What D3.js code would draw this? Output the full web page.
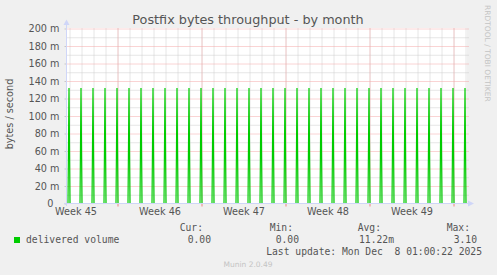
<!DOCTYPE html>
<html>
<head>
<meta charset="utf-8">
<script src="https://cdn.jsdelivr.net/npm/d3@7"></script>
<style>
    html, body { margin: 0; padding: 0; background: #f0f0f0; }
    svg { display: block; }
    text { font-family: "DejaVu Sans", sans-serif; fill: #555; }
    .mono { font-family: "DejaVu Sans Mono", monospace; }
</style>
</head>
<body>
<svg id="chart" width="497" height="275"></svg>
<script>
const chartTitle = 'Postfix bytes throughput - by month';
const yTitle = 'bytes / second';

// graph window (munin "month" view, 2 hours per pixel)
const timeStart = '2025-11-05T20:00:00Z';
const timeEnd = '2025-12-09T04:00:00Z';

// one burst per day, everything else is 0
const spikeTimes = [
    '2025-11-05T23:00:00Z', '2025-11-06T23:00:00Z', '2025-11-07T23:00:00Z', '2025-11-08T23:00:00Z',
    '2025-11-09T23:00:00Z', '2025-11-10T23:00:00Z', '2025-11-11T23:00:00Z', '2025-11-12T23:00:00Z',
    '2025-11-13T23:00:00Z', '2025-11-14T23:00:00Z', '2025-11-15T23:00:00Z', '2025-11-16T23:00:00Z',
    '2025-11-17T23:00:00Z', '2025-11-18T23:00:00Z', '2025-11-19T23:00:00Z', '2025-11-20T23:00:00Z',
    '2025-11-21T23:00:00Z', '2025-11-22T23:00:00Z', '2025-11-23T23:00:00Z', '2025-11-24T23:00:00Z',
    '2025-11-25T23:00:00Z', '2025-11-26T23:00:00Z', '2025-11-27T23:00:00Z', '2025-11-28T23:00:00Z',
    '2025-11-29T23:00:00Z', '2025-11-30T23:00:00Z', '2025-12-01T23:00:00Z', '2025-12-02T23:00:00Z',
    '2025-12-03T23:00:00Z', '2025-12-04T23:00:00Z', '2025-12-05T23:00:00Z', '2025-12-06T23:00:00Z',
    '2025-12-07T23:00:00Z', '2025-12-08T23:00:00Z'
];
const spikeValues = [
    0.132, 0.132, 0.132, 0.132, 0.132, 0.132, 0.132, 0.132, 0.132, 0.132,
    0.132, 0.132, 0.132, 0.132, 0.132, 0.132, 0.132, 0.132, 0.132, 0.132,
    0.132, 0.132, 0.132, 0.132, 0.132, 0.132, 0.132, 0.132, 0.132, 0.132,
    0.132, 0.132, 0.132, 0.132
];

const yMajorTicks = [0, 0.02, 0.04, 0.06, 0.08, 0.10, 0.12, 0.14, 0.16, 0.18, 0.20];
const yMinorTicks = [0.01, 0.03, 0.05, 0.07, 0.09, 0.11, 0.13, 0.15, 0.17, 0.19];
const yTickLabels = ['0', '20 m', '40 m', '60 m', '80 m', '100 m', '120 m', '140 m', '160 m', '180 m', '200 m'];

const weekStarts = ['2025-11-10T00:00:00Z', '2025-11-17T00:00:00Z', '2025-11-24T00:00:00Z', '2025-12-01T00:00:00Z', '2025-12-08T00:00:00Z'];
const weekMids = ['2025-11-06T12:00:00Z', '2025-11-13T12:00:00Z', '2025-11-20T12:00:00Z', '2025-11-27T12:00:00Z', '2025-12-04T12:00:00Z'];
const weekLabels = ['Week 45', 'Week 46', 'Week 47', 'Week 48', 'Week 49'];

const seriesName = 'delivered volume';
const seriesColor = '#00cc00';
const legendHeaders = ['Cur:', 'Min:', 'Avg:', 'Max:'];
const legendValues = ['0.00', '0.00', '11.22m', '3.10'];
const lastUpdate = 'Last update: Mon Dec  8 01:00:22 2025';
const footer = 'Munin 2.0.49';
const watermark = 'RRDTOOL / TOBI OETIKER';

const svg = d3.select('#chart');
const plotLeft = 67.5, plotRight = 467.5, plotTop = 28.5, plotBottom = 203.5;

const x = d3.scaleUtc()
    .domain([new Date(timeStart), new Date(timeEnd)])
    .range([plotLeft, plotRight]);
const y = d3.scaleLinear()
    .domain([0, 0.2])
    .range([plotBottom, plotTop]);

// background / canvas
svg.append('rect').attr('width', 497).attr('height', 275).attr('fill', '#f0f0f0');
svg.append('rect')
    .attr('x', 67).attr('y', 28)
    .attr('width', 400).attr('height', 176)
    .attr('fill', '#ffffff');

// minor grid
svg.append('g')
    .attr('transform', `translate(0,${plotTop})`)
    .call(d3.axisTop(x).ticks(d3.utcDay.every(1)).tickSize(-(plotBottom - plotTop)).tickFormat(''))
    .call(g => g.select('.domain').remove())
    .call(g => g.selectAll('line').attr('stroke', '#cccccc').attr('stroke-dasharray', '1,1'));

svg.append('g')
    .attr('transform', `translate(${plotLeft},0)`)
    .call(d3.axisLeft(y).tickValues(yMinorTicks).tickSize(-(plotRight - plotLeft + 1)).tickFormat(''))
    .call(g => g.select('.domain').remove())
    .call(g => g.selectAll('line').attr('stroke', '#cccccc').attr('stroke-dasharray', '1,1'));

// major grid
svg.append('g')
    .attr('transform', `translate(0,${plotTop})`)
    .call(d3.axisTop(x).tickValues(weekStarts.map(d => new Date(d))).tickSize(-(plotBottom - plotTop)).tickFormat(''))
    .call(g => g.select('.domain').remove())
    .call(g => g.selectAll('line').attr('stroke', '#f4a8a8').attr('stroke-dasharray', '1,1'));

svg.append('g')
    .attr('transform', `translate(${plotLeft},0)`)
    .call(d3.axisLeft(y).tickValues(yMajorTicks.slice(1)).tickSize(-(plotRight - plotLeft + 1)).tickFormat(''))
    .call(g => g.select('.domain').remove())
    .call(g => g.selectAll('line').attr('stroke', '#f4a8a8').attr('stroke-dasharray', '1,1'));

// small ticks below the x axis
svg.append('g')
    .attr('transform', `translate(0,${plotBottom})`)
    .call(d3.axisBottom(x).tickValues(weekStarts.map(d => new Date(d))).tickSize(3).tickFormat(''))
    .call(g => g.select('.domain').remove())
    .call(g => g.selectAll('line').attr('stroke', '#f08080'));

// y tick labels ("0" has no unit, so it sits further left like rrdtool's padded label)
svg.append('g')
    .attr('transform', `translate(${plotLeft - 1},0)`)
    .call(d3.axisLeft(y).tickValues(yMajorTicks).tickSize(2).tickPadding(5)
        .tickFormat((d, i) => yTickLabels[i]))
    .call(g => g.select('.domain').remove())
    .call(g => g.selectAll('line').attr('stroke', '#c8c8c8'))
    .call(g => g.selectAll('text')
        .attr('fill', '#555').style('font-family', '"DejaVu Sans", sans-serif').style('font-size', '9.7px'))
    .call(g => g.selectAll('text').filter(d => d === 0).attr('x', -13));

// x week labels
svg.append('g')
    .attr('transform', `translate(0,${plotBottom})`)
    .call(d3.axisBottom(x).tickValues(weekMids.map(d => new Date(d))).tickSize(0).tickPadding(5)
        .tickFormat((d, i) => weekLabels[i]))
    .call(g => g.select('.domain').remove())
    .call(g => g.selectAll('text')
        .attr('fill', '#555').style('font-family', '"DejaVu Sans", sans-serif').style('font-size', '9.7px'));

// data line
const points = [[new Date(timeStart), 0]];
spikeTimes.forEach((t, i) => {
    const at = new Date(t);
    points.push([d3.utcHour.offset(at, -2), 0]);
    points.push([at, spikeValues[i]]);
    points.push([d3.utcHour.offset(at, 2), 0]);
});
points.push([new Date(timeEnd), 0]);

svg.append('path')
    .datum(points)
    .attr('fill', 'none')
    .attr('stroke', seriesColor)
    .attr('stroke-width', 1.2)
    .attr('d', d3.line().x(d => x(d[0])).y(d => y(d[1])));

// axes with arrows
const axisColor = '#cfd6f8';
svg.append('line')
    .attr('x1', 66.5).attr('x2', 66.5).attr('y1', 206).attr('y2', 24)
    .attr('stroke', axisColor);
svg.append('path')
    .attr('d', 'M63.5,25 L66.5,19.5 L69.5,25 Z')
    .attr('fill', axisColor);
svg.append('line')
    .attr('x1', 64).attr('x2', 470).attr('y1', plotBottom).attr('y2', plotBottom)
    .attr('stroke', axisColor);
svg.append('path')
    .attr('d', `M468,${plotBottom - 3} L474,${plotBottom} L468,${plotBottom + 3} Z`)
    .attr('fill', axisColor);

// titles
svg.append('text')
    .attr('x', 248).attr('y', 24)
    .attr('text-anchor', 'middle')
    .style('font-size', '12.8px')
    .attr('fill', '#555')
    .text(chartTitle);

svg.append('text')
    .attr('transform', 'translate(12.5,114) rotate(-90)')
    .attr('text-anchor', 'middle')
    .style('font-size', '9.7px')
    .text(yTitle);

svg.append('text')
    .attr('transform', 'translate(485,5) rotate(90)')
    .style('font-size', '7.5px')
    .style('fill', '#c4c4c4')
    .text(watermark);

// legend
svg.append('rect')
    .attr('x', 14).attr('y', 237).attr('width', 6).attr('height', 6)
    .attr('fill', seriesColor);
svg.append('text')
    .classed('mono', true)
    .attr('x', 26).attr('y', 243)
    .style('font-size', '9.7px')
    .text(seriesName);

const headerRight = [203, 293, 381, 470];
const valueRight = [211, 299, 394, 477];
legendHeaders.forEach((h, i) => {
    svg.append('text').classed('mono', true)
        .attr('x', headerRight[i]).attr('y', 231)
        .attr('text-anchor', 'end')
        .style('font-size', '9.7px')
        .text(h);
    svg.append('text').classed('mono', true)
        .attr('x', valueRight[i]).attr('y', 243)
        .attr('text-anchor', 'end')
        .style('font-size', '9.7px')
        .text(legendValues[i]);
});

svg.append('text').classed('mono', true)
    .attr('x', 482).attr('y', 255)
    .attr('text-anchor', 'end')
    .style('white-space', 'pre')
    .style('font-size', '9.7px')
    .text(lastUpdate);

svg.append('text')
    .attr('x', 248).attr('y', 267)
    .attr('text-anchor', 'middle')
    .style('font-size', '7.5px')
    .style('fill', '#c4c4c4')
    .text(footer);
</script>
</body>
</html>
